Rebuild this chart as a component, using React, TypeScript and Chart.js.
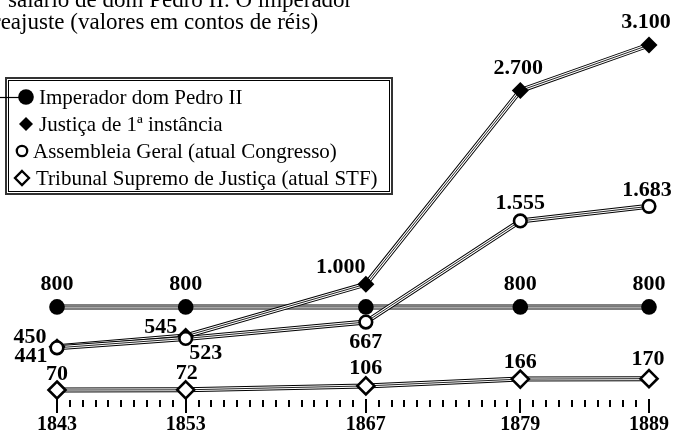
import React, { useEffect, useRef } from "react";
import { Chart, registerables } from "chart.js";

Chart.register(...registerables);

// ---- data ----
const years = [1843, 1853, 1867, 1879, 1889];
const pedroII = [800, 800, 800, 800, 800];
const justica = [450, 545, 1000, 2700, 3100];
const assembleia = [441, 523, 667, 1555, 1683];
const tribunal = [70, 72, 106, 166, 170];
const seriesNames = [
  "Imperador dom Pedro II",
  "Justiça de 1ª instância",
  "Assembleia Geral (atual Congresso)",
  "Tribunal Supremo de Justiça (atual STF)",
];
const titleLines = [
  "salário de dom Pedro II. O imperador",
  "reajuste (valores em contos de réis)",
];

// ---- styles / positions (not data) ----
const SERIF = '"Liberation Serif", "DejaVu Serif", serif';
const markerStyles = [
  { shape: "circle", r: 7.8, fill: "#000", stroke: "#000", bw: 0 },
  { shape: "diamond", r: 8.5, fill: "#000", stroke: "#000", bw: 0 },
  { shape: "circle", r: 6.3, fill: "#fff", stroke: "#000", bw: 2.6 },
  { shape: "diamond", r: 8.5, fill: "#fff", stroke: "#000", bw: 2.6 },
];
// null = label hidden (overlaps another label in the original)
const labelOffsets: ([number, number] | null)[][] = [
  [[0, -23], [0, -23], null, [0, -23], [0, -23]],
  [[-27, -9], [-25, -9], [-25, -17], [-2, -22], [-3, -23]],
  [[-26, 9], [20, 15], [0, 20], [0, -18], [-2, -16]],
  [[0, -16], [1, -16], [0, -18], [0, -17], [-1, -19]],
];
const legendRows = [
  { y: 97, mx: 26, tx: 39 },
  { y: 124, mx: 26, tx: 39 },
  { y: 151, mx: 22, tx: 33 },
  { y: 178, mx: 22, tx: 36 },
];

const allSeries = [pedroII, justica, assembleia, tribunal];

function fmt(v: number): string {
  return v.toLocaleString("pt-BR");
}

function drawMarker(ctx: CanvasRenderingContext2D, shape: string, x: number, y: number, r: number, fill: string, stroke: string, bw: number) {
  ctx.save();
  ctx.beginPath();
  if (shape === "circle") {
    ctx.arc(x, y, r, 0, Math.PI * 2);
  } else {
    ctx.moveTo(x, y - r);
    ctx.lineTo(x + r, y);
    ctx.lineTo(x, y + r);
    ctx.lineTo(x - r, y);
    ctx.closePath();
  }
  ctx.fillStyle = fill;
  ctx.fill();
  if (bw > 0) {
    ctx.lineWidth = bw;
    ctx.strokeStyle = stroke;
    ctx.lineJoin = "miter";
    ctx.stroke();
  }
  ctx.restore();
}

const decorPlugin = {
  id: "decor",
  afterDraw(chart: any) {
    const ctx: CanvasRenderingContext2D = chart.ctx;
    const xs = chart.scales.x;
    const ys = chart.scales.y;
    ctx.save();

    // title (cropped)
    ctx.fillStyle = "#000";
    ctx.font = `23px ${SERIF}`;
    ctx.textAlign = "left";
    ctx.textBaseline = "alphabetic";
    ctx.fillText(titleLines[0], 8, 7);
    ctx.fillText(titleLines[1], -7, 29);

    // point markers drawn on top of the lines
    const pointDatasetStart = allSeries.length * 3;
    for (let s = 0; s < allSeries.length; s++) {
      const meta = chart.getDatasetMeta(pointDatasetStart + s);
      const st = markerStyles[s];
      meta.data.forEach((pt: any) => {
        drawMarker(ctx, st.shape, pt.x, pt.y, st.r, st.fill, st.stroke, st.bw);
      });
    }

    // value labels
    ctx.font = `bold 22px ${SERIF}`;
    ctx.textAlign = "center";
    ctx.textBaseline = "middle";
    for (let s = 0; s < allSeries.length; s++) {
      const meta = chart.getDatasetMeta(pointDatasetStart + s);
      meta.data.forEach((pt: any, i: number) => {
        const off = labelOffsets[s][i];
        if (!off) return;
        ctx.fillText(fmt(allSeries[s][i]), pt.x + off[0], pt.y + off[1]);
      });
    }

    // x axis ticks
    const base = ys.getPixelForValue(0);
    ctx.strokeStyle = "#000";
    ctx.lineWidth = 2;
    for (let yr = years[0]; yr <= years[years.length - 1]; yr++) {
      const px = Math.round(xs.getPixelForValue(yr));
      const major = years.includes(yr);
      ctx.beginPath();
      if (major) {
        ctx.moveTo(px, base + 1);
        ctx.lineTo(px, base + 15);
      } else {
        ctx.moveTo(px, base + 2);
        ctx.lineTo(px, base + 9);
      }
      ctx.stroke();
    }
    ctx.font = `bold 20px ${SERIF}`;
    ctx.textAlign = "center";
    ctx.textBaseline = "middle";
    years.forEach((yr) => {
      ctx.fillText(String(yr), xs.getPixelForValue(yr), base + 27);
    });

    // legend
    const lx = 5, ly = 77, lw = 388, lh = 118;
    ctx.fillStyle = "#fff";
    ctx.fillRect(lx, ly, lw, lh);
    ctx.strokeStyle = "#333";
    ctx.lineWidth = 2;
    ctx.strokeRect(lx + 1, ly + 1, lw - 2, lh - 2);
    ctx.strokeStyle = "#000";
    ctx.lineWidth = 1;
    ctx.strokeRect(lx + 3.5, ly + 3.5, lw - 7, lh - 7);
    // leader line
    ctx.beginPath();
    ctx.moveTo(0, legendRows[0].y + 0.5);
    ctx.lineTo(legendRows[0].mx, legendRows[0].y + 0.5);
    ctx.lineWidth = 1.2;
    ctx.stroke();
    ctx.font = `21px ${SERIF}`;
    ctx.textAlign = "left";
    ctx.textBaseline = "middle";
    seriesNames.forEach((name, i) => {
      const row = legendRows[i];
      const st = markerStyles[i];
      const r = i === 2 ? 5.2 : i === 3 ? 7 : i === 1 ? 7 : st.r;
      drawMarker(ctx, st.shape, row.mx, row.y, r, st.fill, st.stroke, st.bw ? 2.3 : 0);
      ctx.fillStyle = "#000";
      ctx.fillText(name, row.tx, row.y + 1);
    });

    ctx.restore();
  },
};

export default function App() {
  const canvasRef = useRef<HTMLCanvasElement | null>(null);

  useEffect(() => {
    const canvas = canvasRef.current;
    if (!canvas) return;
    const datasets: any[] = [];
    const lineLayers = [
      { color: "#000", width: 5 },
      { color: "#fff", width: 3 },
      { color: "#222", width: 1 },
    ];
    allSeries.forEach((vals, s) => {
      lineLayers.forEach((layer, l) => {
        datasets.push({
          label: seriesNames[s] + " " + l,
          data: years.map((x, i) => ({ x, y: vals[i] })),
          borderColor: layer.color,
          borderWidth: layer.width,
          pointRadius: 0,
          tension: 0,
          clip: false,
          order: 100 - (s * 3 + l),
        });
      });
    });
    allSeries.forEach((vals, s) => {
      datasets.push({
        label: seriesNames[s],
        data: years.map((x, i) => ({ x, y: vals[i] })),
        showLine: false,
        pointRadius: 0,
        clip: false,
        order: 10 - s,
      });
    });

    const chart = new Chart(canvas, {
      type: "line",
      data: { datasets },
      options: {
        animation: false,
        responsive: false,
        devicePixelRatio: 1,
        events: [],
        layout: { padding: { left: 57, right: 25, top: 45, bottom: 35 } },
        scales: {
          x: { type: "linear", min: years[0], max: years[years.length - 1], display: false },
          y: { type: "linear", min: 0, max: 3100, display: false },
        },
        plugins: {
          legend: { display: false },
          tooltip: { enabled: false },
          title: { display: false },
        },
      },
      plugins: [decorPlugin],
    });
    return () => chart.destroy();
  }, []);

  return (
    <div style={{ position: "fixed", left: 0, top: 0, width: 674, height: 433, background: "#fff" }}>
      <canvas ref={canvasRef} width={674} height={433} style={{ display: "block" }} />
    </div>
  );
}
